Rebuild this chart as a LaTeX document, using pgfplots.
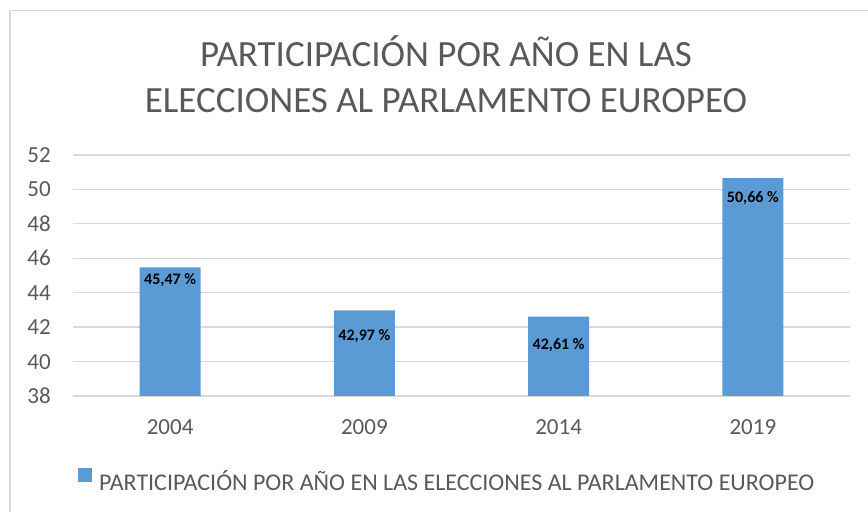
\documentclass[border=0pt]{standalone}
\usepackage{fontspec}
\setmainfont{Carlito}
\usepackage{pgfplots}
\usepackage{pgfplotstable}
\pgfplotsset{compat=1.18}
\definecolor{barblue}{HTML}{5B9BD5}
\definecolor{txtgray}{HTML}{595959}
\definecolor{gridgray}{HTML}{D9D9D9}
\pgfplotstableread{
x y off
0 45.47 13
1 42.97 26
2 42.61 28
3 50.66 20
}\datatable
\begin{document}
\begin{tikzpicture}[x=1bp,y=1bp]
\path[use as bounding box] (0,0) rectangle (868,512);
\draw[gridgray, line width=1.5bp] (10,0) -- (10,501.5) -- (868,501.5);
\node[anchor=base, inner sep=0pt, text=txtgray, font=\fontsize{37bp}{44bp}\selectfont] at (446,445) {PARTICIPACIÓN POR AÑO EN LAS};
\node[anchor=base, inner sep=0pt, text=txtgray, font=\fontsize{37bp}{44bp}\selectfont] at (446,399) {ELECCIONES AL PARLAMENTO EUROPEO};
\begin{axis}[
  at={(73bp,116bp)}, anchor=south west,
  scale only axis, width=777bp, height=241bp,
  xmin=-0.5, xmax=3.5, ymin=38, ymax=52,
  ytick={38,40,...,52},
  xtick={0,1,2,3}, xticklabels={2004,2009,2014,2019},
  /pgf/number format/assume math mode=true,
  ymajorgrids, grid style={gridgray, line width=1.3bp},
  axis line style={draw=none}, tick style={draw=none},
  major tick length=0pt,
  tick label style={text=txtgray, font=\fontsize{23bp}{27bp}\selectfont},
  yticklabel style={anchor=base east, inner sep=0pt, xshift=-22bp, yshift=-7.5bp},
  xticklabel style={anchor=base, inner sep=0pt, yshift=-39bp},
  ybar, bar width=61bp,
  legend style={at={(0.0064,-0.3485)}, anchor=west, draw=none, fill=none, inner sep=0pt,
    font=\fontsize{24bp}{28bp}\selectfont, text=txtgray,
    nodes={inner sep=0pt},
    /tikz/every odd column/.append style={column sep=7bp}},
  legend image code/.code={\fill[barblue] (0bp,0bp) rectangle (14bp,14bp);},
]
\addplot[fill=barblue, draw=none,
  nodes near coords={\pgfmathprintnumber[fixed,fixed zerofill,precision=2,use comma]{\pgfplotspointmeta}~\%},
  visualization depends on={\thisrow{off} \as \myoff},
  every node near coord/.append style={anchor=center, text=black, font=\bfseries\fontsize{16bp}{19bp}\selectfont, yshift=-\myoff*1bp},
] table[x=x, y=y] {\datatable};
\addlegendentry{PARTICIPACIÓN POR AÑO EN LAS ELECCIONES AL PARLAMENTO EUROPEO}
\end{axis}
\end{tikzpicture}
\end{document}
